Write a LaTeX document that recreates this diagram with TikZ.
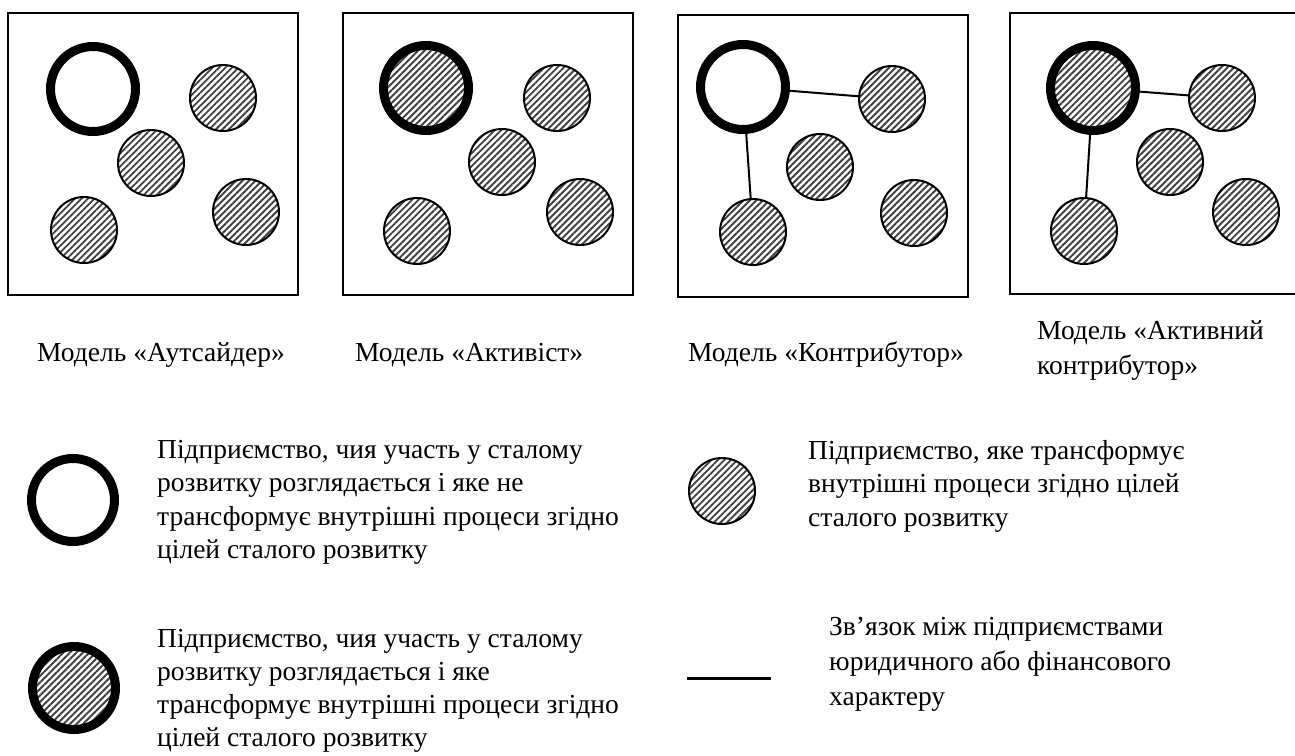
\documentclass[tikz,border=0pt]{standalone}
\usepackage{fontspec}
\setmainfont{Liberation Serif}
\usetikzlibrary{patterns.meta}
\tikzset{
  box/.style={draw, line width=2pt},
  firm/.style={circle, draw, line width=2pt, minimum size=66pt, inner sep=0pt,
    pattern={Lines[angle=45,distance=4.6pt,line width=1.9pt]}, pattern color=black!75},
  ring/.style={circle, draw, line width=9pt, minimum size=85pt, inner sep=0pt},
  hring/.style={ring, pattern={Lines[angle=45,distance=4.6pt,line width=1.9pt]}, pattern color=black!75},
  link/.style={draw, line width=2pt},
  lbl/.style={anchor=base west, inner sep=0pt, font=\fontsize{27.5}{34.5}\selectfont},
  legtxt/.style={anchor=north west, inner sep=0pt, align=left, font=\fontsize{27.5}{33.5}\selectfont},
}
\begin{document}
\begin{tikzpicture}[x=1pt,y=-1pt]
\useasboundingbox (0,0) rectangle (1295,755);
% boxes
\draw[box] (8,13) rectangle (298,295);
\draw[box] (343,13) rectangle (633,295);
\draw[box] (678,15) rectangle (968,297);
\draw[box] (1300,13) -- (1010,13) -- (1010,294) -- (1300,294);
% model 1
\node[ring] (r1) at (93,89) {};
\node[firm] (a1) at (223,98) {};
\node[firm] (a2) at (151,163) {};
\node[firm] (a3) at (246,212) {};
\node[firm] (a4) at (84,230) {};
% model 2
\node[hring] (r2) at (426,88) {};
\node[firm] (b1) at (557,98) {};
\node[firm] (b2) at (502,162) {};
\node[firm] (b3) at (580,212) {};
\node[firm] (b4) at (417,231) {};
% model 3
\node[ring] (r3) at (743,87) {};
\node[firm] (c1) at (892,99) {};
\node[firm] (c2) at (820,167) {};
\node[firm] (c3) at (914,213) {};
\node[firm] (c4) at (753,232) {};
\draw[link] (r3) -- (c1);
\draw[link] (r3) -- (c4);
% model 4
\node[hring] (r4) at (1093,88) {};
\node[firm] (d1) at (1222,98) {};
\node[firm] (d2) at (1170,162) {};
\node[firm] (d3) at (1246,212) {};
\node[firm] (d4) at (1084,231) {};
\draw[link] (r4) -- (d1);
\draw[link] (r4) -- (d4);
% labels
\node[lbl] (m1) at (37,361) {Модель «Аутсайдер»};
\node[lbl] (m2) at (355,361) {Модель «Активіст»};
\node[lbl] (m3) at (688,361) {Модель «Контрибутор»};
\node[legtxt, font=\fontsize{27.5}{35}\selectfont] (m4) at (1037,320) {Модель «Активний\\контрибутор»};
% legend
\node[ring, minimum size=83pt] (lr1) at (73,500) {};
\node[legtxt] (lt1) at (157,440) {Підприємство, чия участь у сталому\\розвитку розглядається і яке не\\трансформує внутрішні процеси згідно\\цілей сталого розвитку};
\node[hring, minimum size=83pt] (lr2) at (74,688) {};
\node[legtxt, font=\fontsize{27.5}{33}\selectfont] (lt2) at (157,629) {Підприємство, чия участь у сталому\\розвитку розглядається і яке\\трансформує внутрішні процеси згідно\\цілей сталого розвитку};
\node[firm] (lf) at (722,491) {};
\node[legtxt] (lt3) at (808,440) {Підприємство, яке трансформує\\внутрішні процеси згідно цілей\\сталого розвитку};
\coordinate (la) at (687,678);
\coordinate (lb) at (771,678);
\draw[line width=3pt] (la) -- (lb);
\node[legtxt, font=\fontsize{27.5}{35}\selectfont] (lt4) at (829,617) {Зв’язок між підприємствами\\юридичного або фінансового\\характеру};
\end{tikzpicture}
\end{document}
